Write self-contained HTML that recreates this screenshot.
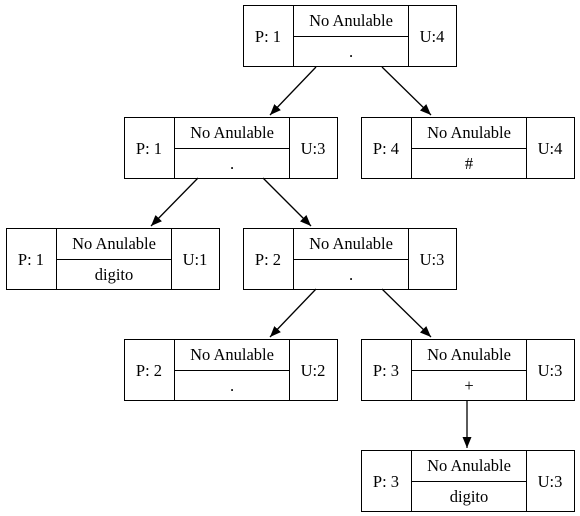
<!DOCTYPE html>
<html><head><style>body{margin:0;background:#fff}svg{display:block}text{font-family:"Liberation Serif","DejaVu Serif","Times New Roman",serif;font-size:16.5px;fill:#000;text-anchor:middle}.n rect,.n line{fill:none;stroke:#000;stroke-width:1}</style></head>
<body>
<svg width="580" height="516" xmlns="http://www.w3.org/2000/svg" font-family="Liberation Serif, DejaVu Serif, serif">
<defs><marker id="a" markerWidth="12" markerHeight="12" refX="11" refY="5" orient="auto" markerUnits="userSpaceOnUse"><path d="M0,0.5 L11,5 L0,9.5 z" fill="#000"/></marker></defs>
<g stroke="#000" stroke-width="1.3" marker-end="url(#a)">
<line x1="316" y1="67" x2="270" y2="115"/>
<line x1="382" y1="67" x2="431" y2="115"/>
<line x1="198" y1="178" x2="151" y2="226"/>
<line x1="263" y1="178" x2="311" y2="226"/>
<line x1="316" y1="289" x2="270" y2="337"/>
<line x1="382" y1="289" x2="431" y2="337"/>
<line x1="467" y1="400" x2="467" y2="448"/>
</g>

<g class="n" transform="translate(243,5)"><rect x=".5" y=".5" width="213" height="61"/><line x1="50.5" y1=".5" x2="50.5" y2="61.5"/><line x1="165.5" y1=".5" x2="165.5" y2="61.5"/><line x1="50.5" y1="31.5" x2="165.5" y2="31.5"/><text x="25" y="37">P: 1</text><text x="108" y="21">No Anulable</text><text x="108" y="52">.</text><text x="189" y="37">U:4</text></g>

<g class="n" transform="translate(124,117)"><rect x=".5" y=".5" width="213" height="61"/><line x1="50.5" y1=".5" x2="50.5" y2="61.5"/><line x1="165.5" y1=".5" x2="165.5" y2="61.5"/><line x1="50.5" y1="31.5" x2="165.5" y2="31.5"/><text x="25" y="37">P: 1</text><text x="108" y="21">No Anulable</text><text x="108" y="52">.</text><text x="189" y="37">U:3</text></g>

<g class="n" transform="translate(361,117)"><rect x=".5" y=".5" width="213" height="61"/><line x1="50.5" y1=".5" x2="50.5" y2="61.5"/><line x1="165.5" y1=".5" x2="165.5" y2="61.5"/><line x1="50.5" y1="31.5" x2="165.5" y2="31.5"/><text x="25" y="37">P: 4</text><text x="108" y="21">No Anulable</text><text x="108" y="52">#</text><text x="189" y="37">U:4</text></g>

<g class="n" transform="translate(6,228)"><rect x=".5" y=".5" width="213" height="61"/><line x1="50.5" y1=".5" x2="50.5" y2="61.5"/><line x1="165.5" y1=".5" x2="165.5" y2="61.5"/><line x1="50.5" y1="31.5" x2="165.5" y2="31.5"/><text x="25" y="37">P: 1</text><text x="108" y="21">No Anulable</text><text x="108" y="52">digito</text><text x="189" y="37">U:1</text></g>

<g class="n" transform="translate(243,228)"><rect x=".5" y=".5" width="213" height="61"/><line x1="50.5" y1=".5" x2="50.5" y2="61.5"/><line x1="165.5" y1=".5" x2="165.5" y2="61.5"/><line x1="50.5" y1="31.5" x2="165.5" y2="31.5"/><text x="25" y="37">P: 2</text><text x="108" y="21">No Anulable</text><text x="108" y="52">.</text><text x="189" y="37">U:3</text></g>

<g class="n" transform="translate(124,339)"><rect x=".5" y=".5" width="213" height="61"/><line x1="50.5" y1=".5" x2="50.5" y2="61.5"/><line x1="165.5" y1=".5" x2="165.5" y2="61.5"/><line x1="50.5" y1="31.5" x2="165.5" y2="31.5"/><text x="25" y="37">P: 2</text><text x="108" y="21">No Anulable</text><text x="108" y="52">.</text><text x="189" y="37">U:2</text></g>

<g class="n" transform="translate(361,339)"><rect x=".5" y=".5" width="213" height="61"/><line x1="50.5" y1=".5" x2="50.5" y2="61.5"/><line x1="165.5" y1=".5" x2="165.5" y2="61.5"/><line x1="50.5" y1="31.5" x2="165.5" y2="31.5"/><text x="25" y="37">P: 3</text><text x="108" y="21">No Anulable</text><text x="108" y="52">+</text><text x="189" y="37">U:3</text></g>

<g class="n" transform="translate(361,450)"><rect x=".5" y=".5" width="213" height="61"/><line x1="50.5" y1=".5" x2="50.5" y2="61.5"/><line x1="165.5" y1=".5" x2="165.5" y2="61.5"/><line x1="50.5" y1="31.5" x2="165.5" y2="31.5"/><text x="25" y="37">P: 3</text><text x="108" y="21">No Anulable</text><text x="108" y="52">digito</text><text x="189" y="37">U:3</text></g>
</svg>
</body></html>
